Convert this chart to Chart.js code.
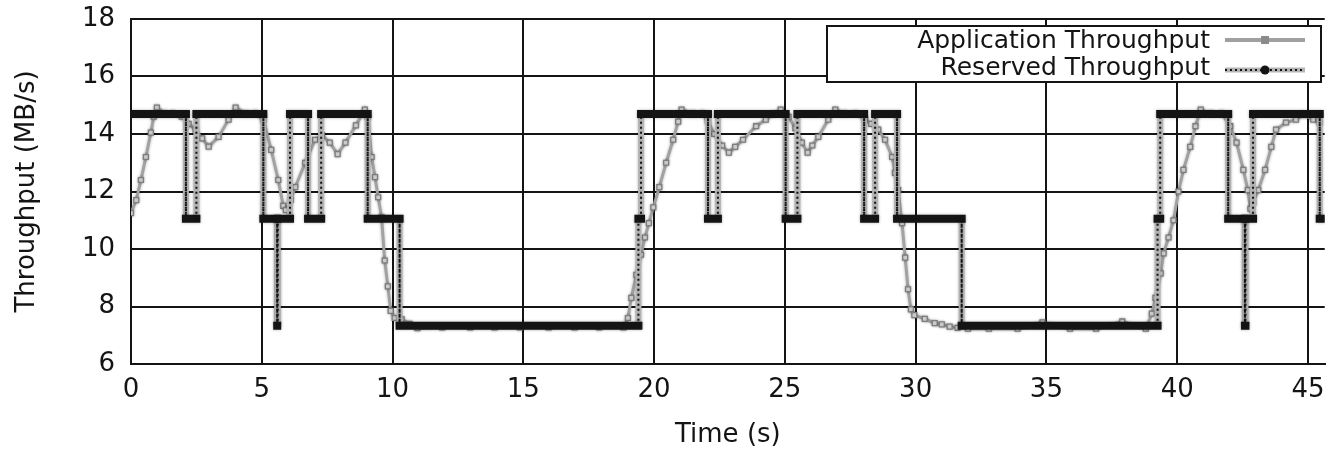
<!DOCTYPE html>
<html><head><meta charset="utf-8">
<script src="https://cdn.jsdelivr.net/npm/chart.js@4.4.1/dist/chart.umd.min.js"></script>
<style>html,body{margin:0;padding:0;background:#fff;overflow:hidden}canvas{display:block;filter:blur(0.4px)}</style>
</head><body><canvas id="c" width="1330" height="451"></canvas>
<script>
// ---- data ----
const appTime = [0.0,0.2,0.38,0.57,0.76,0.87,0.99,1.3,1.6,1.94,2.2,2.47,2.72,2.97,3.35,3.73,4.0,4.4,4.75,5.06,5.36,5.63,5.82,5.92,6.1,6.28,6.66,7.04,7.3,7.6,7.9,8.2,8.6,8.94,9.05,9.2,9.33,9.45,9.58,9.7,9.82,9.93,10.08,10.35,10.65,10.95,11.9,12.97,13.9,14.87,15.97,16.96,17.9,18.83,19.0,19.13,19.32,19.5,19.65,19.8,19.97,20.2,20.46,20.73,20.92,21.05,21.5,21.85,22.06,22.3,22.6,22.86,23.1,23.4,23.9,24.27,24.55,24.84,25.14,25.4,25.65,25.87,26.05,26.28,26.66,26.93,27.3,27.7,28.07,28.3,28.57,28.83,29.1,29.21,29.33,29.48,29.6,29.71,29.82,29.95,30.35,30.73,31.0,31.3,31.6,32.0,32.8,33.9,34.85,35.9,36.9,37.9,38.8,39.03,39.17,39.37,39.48,39.67,39.86,40.05,40.24,40.5,40.7,40.9,41.3,41.7,42.03,42.27,42.53,42.7,42.8,42.9,43.1,43.36,43.6,43.78,44.16,44.54,44.8,45.2,45.45];
const appValue = [11.25,11.7,12.4,13.2,14.05,14.6,14.92,14.72,14.72,14.6,14.35,14.15,13.85,13.56,13.9,14.5,14.92,14.72,14.72,14.5,13.45,12.4,11.5,11.35,11.7,12.15,13.0,13.8,13.95,13.7,13.3,13.7,14.3,14.85,14.6,13.2,12.5,11.8,11.1,9.6,8.7,7.85,7.6,7.55,7.4,7.25,7.27,7.27,7.27,7.27,7.27,7.27,7.27,7.27,7.6,8.3,9.1,9.8,10.4,10.9,11.45,12.15,13.0,13.8,14.43,14.85,14.72,14.72,14.45,14.0,13.6,13.35,13.55,13.8,14.27,14.5,14.7,14.85,14.6,14.2,13.7,13.35,13.6,13.9,14.5,14.85,14.72,14.72,14.5,14.35,14.15,13.8,13.2,12.65,12.05,10.9,9.7,8.6,7.9,7.7,7.57,7.42,7.38,7.3,7.26,7.23,7.23,7.23,7.45,7.23,7.23,7.48,7.23,7.75,8.3,9.15,9.85,10.4,11.0,12.0,12.75,13.55,14.27,14.85,14.72,14.72,14.27,13.7,12.75,12.05,11.4,11.6,12.05,12.75,13.55,14.15,14.4,14.5,14.67,14.5,14.4];
const resTime = [0,2.1,2.1,2.5,2.5,5.06,5.06,5.59,5.59,5.61,5.61,6.08,6.08,6.77,6.77,7.27,7.27,9.05,9.05,10.27,10.27,19.4,19.4,19.5,19.5,22.06,22.06,22.44,22.44,25.03,25.03,25.48,25.48,28.03,28.03,28.45,28.45,29.29,29.29,31.76,31.76,39.25,39.25,39.35,39.35,41.95,41.95,42.59,42.59,42.61,42.61,42.9,42.9,45.45,45.45,45.64];
const resValue = [14.7,14.7,11.05,11.05,14.7,14.7,11.05,11.05,7.33,7.33,11.05,11.05,14.7,14.7,11.05,11.05,14.7,14.7,11.05,11.05,7.33,7.33,11.05,11.05,14.7,14.7,11.05,11.05,14.7,14.7,11.05,11.05,14.7,14.7,11.05,11.05,14.7,14.7,11.05,11.05,7.33,7.33,11.05,11.05,14.7,14.7,11.05,11.05,7.33,7.33,11.05,11.05,14.7,14.7,11.05,11.05];
const xTicks = [0,5,10,15,20,25,30,35,40,45];
const yTicks = [6,8,10,12,14,16,18];
const seriesNames = ['Application Throughput','Reserved Throughput'];
const xTitle = 'Time (s)';
const yTitle = 'Throughput (MB/s)';

// ---- chart ----
const FONT = '"DejaVu Sans", "Liberation Sans", sans-serif';
const INK = '#141414';
const flat = c => c.p0.parsed.y === c.p1.parsed.y;

const legendPlugin = {
  id: 'boxLegend',
  afterDraw(chart) {
    const ctx = chart.ctx;
    ctx.save();
    ctx.fillStyle = '#fff';
    ctx.fillRect(827, 26, 494, 56);
    ctx.strokeStyle = INK; ctx.lineWidth = 2;
    ctx.strokeRect(827, 26, 494, 56);
    ctx.font = '25px ' + FONT;
    ctx.fillStyle = INK; ctx.textAlign = 'right'; ctx.textBaseline = 'alphabetic';
    ctx.fillText(seriesNames[0], 1210, 48);
    ctx.fillText(seriesNames[1], 1210, 75);
    // app sample
    ctx.strokeStyle = '#a0a0a0'; ctx.lineWidth = 4;
    ctx.beginPath(); ctx.moveTo(1225, 40); ctx.lineTo(1305, 40); ctx.stroke();
    ctx.fillStyle = '#8a8a8a'; ctx.fillRect(1261, 36, 8, 8);
    // reserved sample
    ctx.strokeStyle = '#b4b4b4'; ctx.lineWidth = 5;
    ctx.beginPath(); ctx.moveTo(1225, 70); ctx.lineTo(1305, 70); ctx.stroke();
    ctx.strokeStyle = INK; ctx.lineWidth = 2; ctx.setLineDash([2, 3]);
    ctx.beginPath(); ctx.moveTo(1225, 70); ctx.lineTo(1305, 70); ctx.stroke();
    ctx.setLineDash([]);
    ctx.fillStyle = INK; ctx.beginPath(); ctx.arc(1265, 70, 4.5, 0, Math.PI * 2); ctx.fill();
    ctx.restore();
  }
};
const haloPlugin = {
  id: 'halo',
  beforeDatasetDraw(chart, args) {
    chart.ctx.save();
    chart.ctx.shadowColor = 'rgba(0,0,0,0.3)';
    chart.ctx.shadowBlur = 3;
  },
  afterDatasetDraw(chart) { chart.ctx.restore(); }
};

const resPoints = resTime.map((t, i) => ({x: t, y: resValue[i]}));

new Chart(document.getElementById('c'), {
  type: 'line',
  data: {
    datasets: [
      {
        label: seriesNames[0],
        data: appTime.map((t, i) => ({x: t, y: appValue[i]})),
        borderColor: '#a2a2a2', borderWidth: 3,
        pointStyle: 'rect', pointRadius: 3.5,
        pointBorderColor: '#7e7e7e', pointBackgroundColor: '#e2e2e2', pointBorderWidth: 1.3,
        tension: 0, order: 2
      },
      {
        label: seriesNames[1],
        data: resPoints,
        borderColor: INK, borderWidth: 8, pointRadius: 0,
        segment: {
          borderWidth: c => flat(c) ? 8 : 2,
          borderDash: c => flat(c) ? [] : [2, 3],
          borderCapStyle: c => flat(c) ? 'square' : 'butt'
        },
        tension: 0, order: 0
      },
      {
        label: 'halo',
        data: resPoints,
        borderWidth: 6, pointRadius: 0,
        segment: {
          borderColor: c => flat(c) ? 'rgba(0,0,0,0)' : '#b8b8b8'
        },
        tension: 0, order: 1
      }
    ]
  },
  options: {
    responsive: false, animation: false, events: [],
    layout: {padding: {left: 0, right: 0, top: 19, bottom: 0}},
    plugins: {legend: {display: false}, tooltip: {enabled: false}},
    scales: {
      x: {
        type: 'linear', min: 0, max: 45.64,
        afterBuildTicks: s => { s.ticks = xTicks.map(v => ({value: v})); },
        afterFit: s => { s.height = 87; s.paddingLeft = 0; s.paddingRight = 0; },
        grid: {color: INK, lineWidth: 2, drawTicks: false},
        border: {color: INK, width: 2},
        ticks: {padding: 11, color: INK, font: {family: FONT, size: 26}, maxRotation: 0, autoSkip: false},
        title: {display: true, text: xTitle, color: INK, font: {family: FONT, size: 26}, padding: {top: 0, bottom: 0}}
      },
      y: {
        type: 'linear', min: 6, max: 18,
        afterBuildTicks: s => { s.ticks = yTicks.map(v => ({value: v})); },
        afterFit: s => { s.width = 131; s.paddingTop = 0; s.paddingBottom = 0; },
        grid: {color: INK, lineWidth: 2, drawTicks: false},
        border: {color: INK, width: 2},
        ticks: {padding: 16, color: INK, font: {family: FONT, size: 26}},
        title: {display: true, text: yTitle, color: INK, font: {family: FONT, size: 26}, padding: {top: 12, bottom: 0}}
      }
    }
  },
  plugins: [haloPlugin, legendPlugin]
});
</script>
</body></html>
